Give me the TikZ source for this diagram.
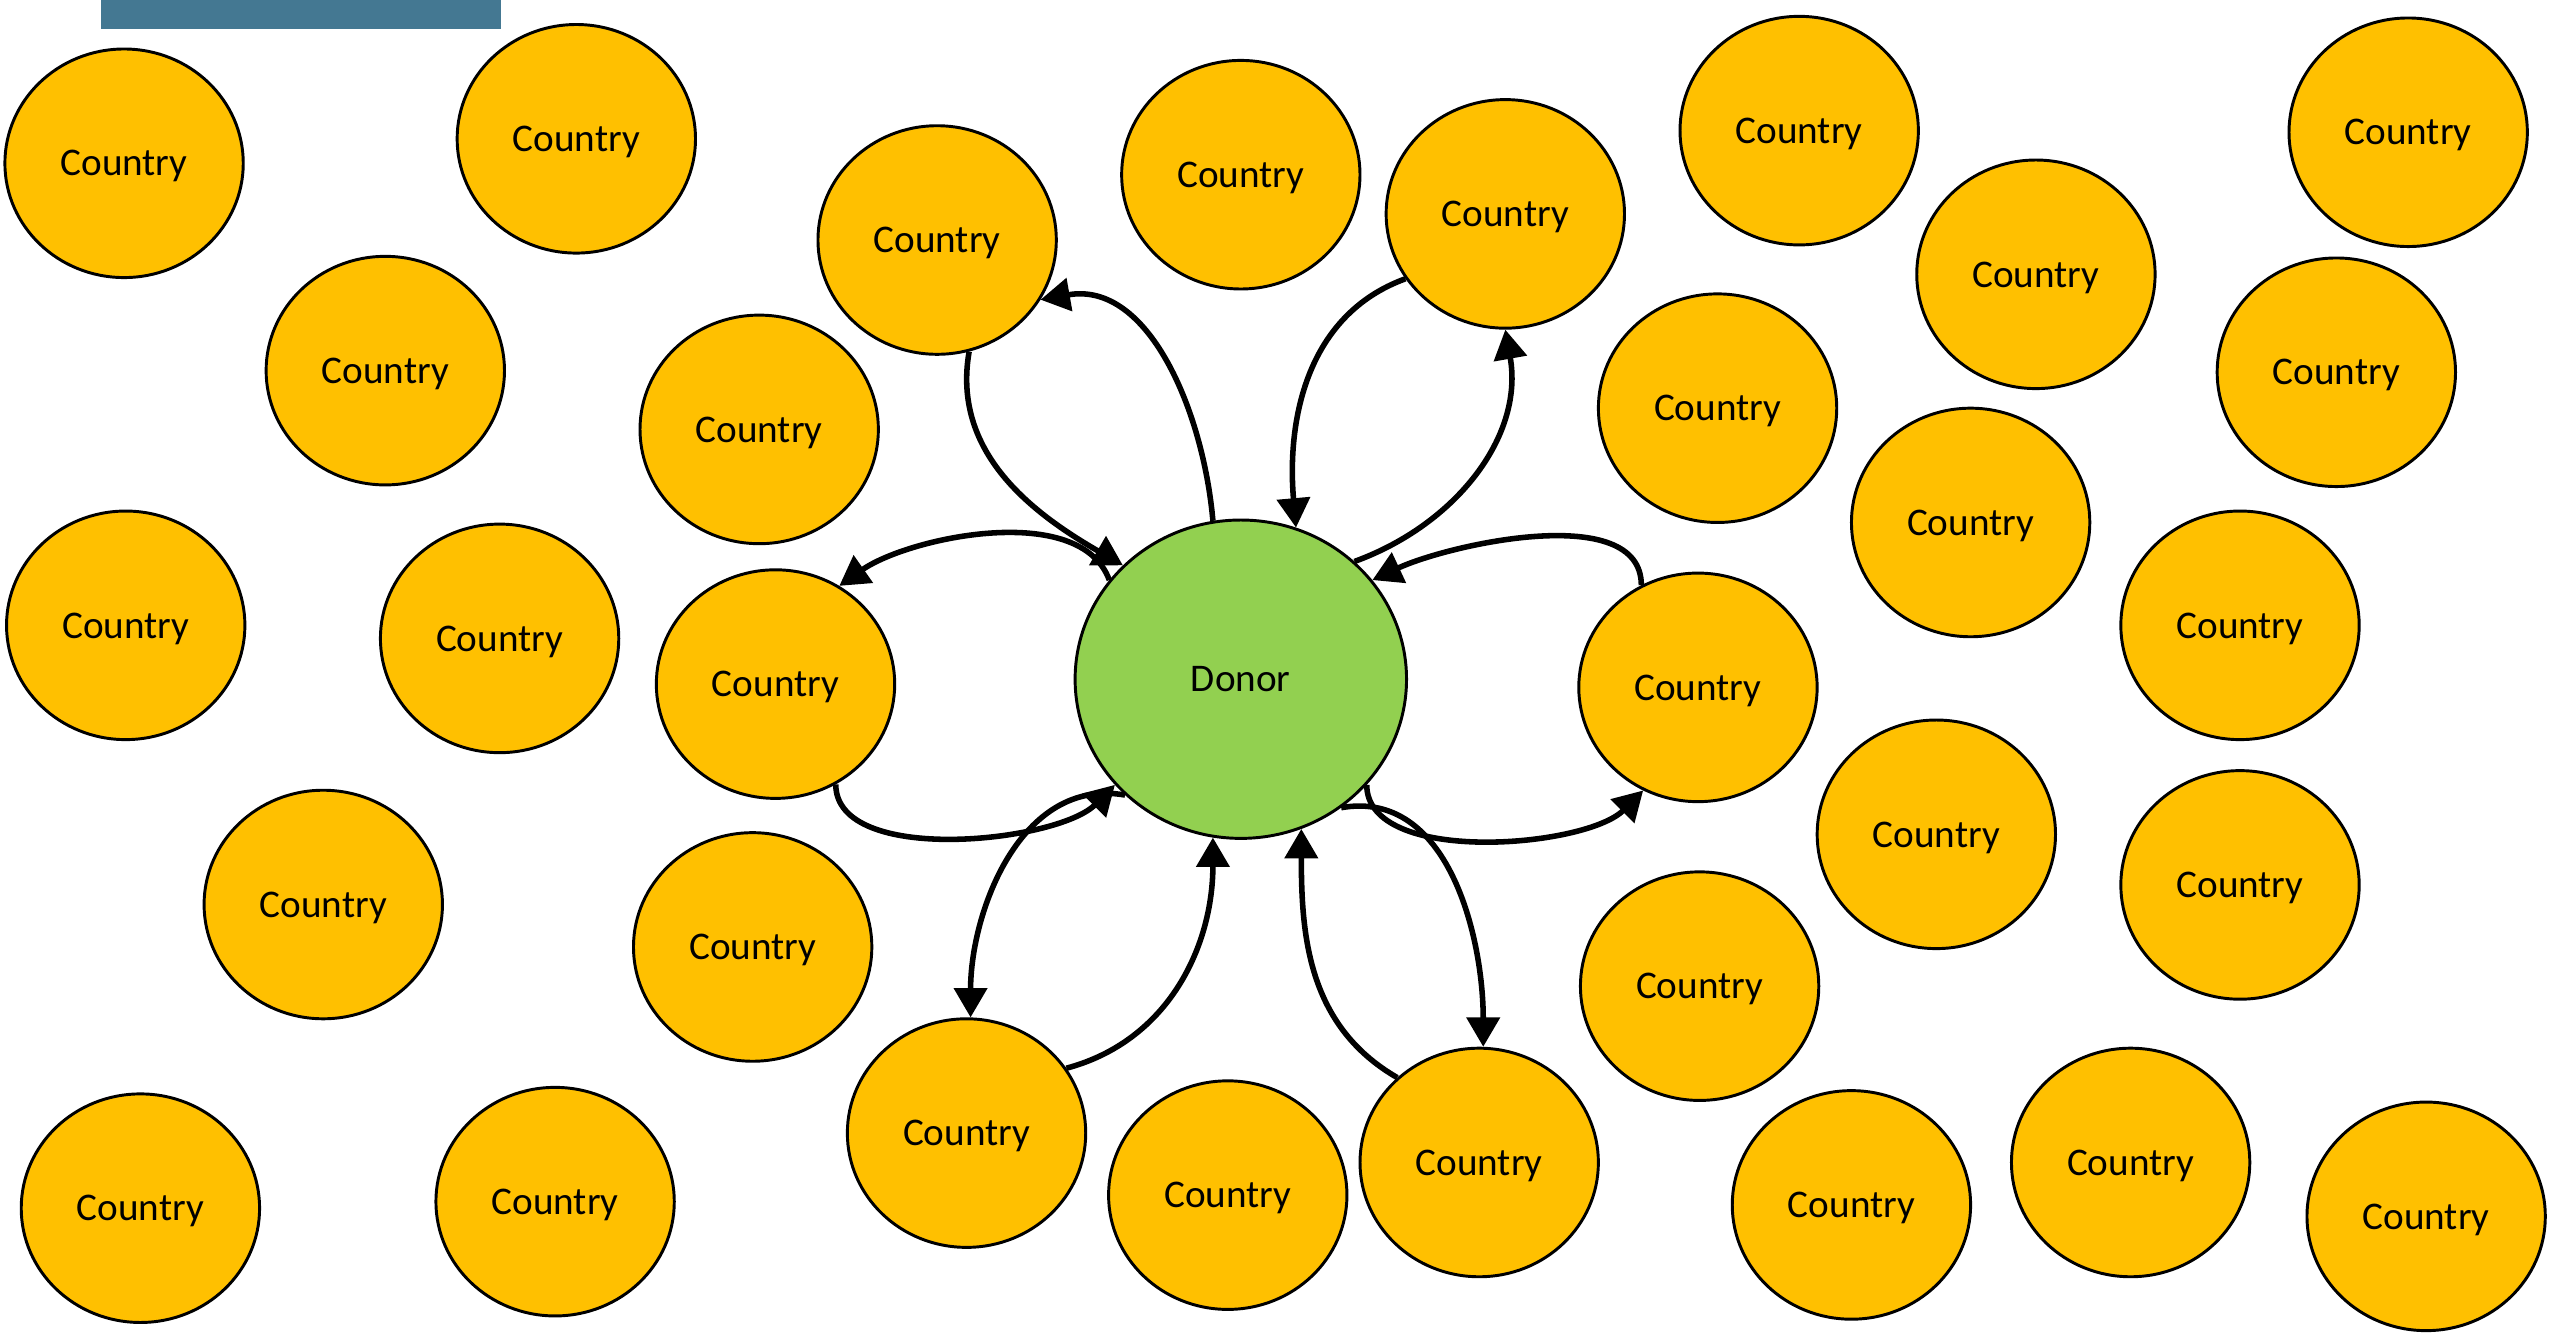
\documentclass[tikz,border=0pt]{standalone}
\usepackage{fontspec}
\setmainfont{Carlito}
\usepackage{tikz}
\usetikzlibrary{shapes.geometric,arrows.meta}

\definecolor{gold}{HTML}{FFC000}
\definecolor{leaf}{HTML}{92D050}
\definecolor{bar}{HTML}{447892}

\begin{document}
\begin{tikzpicture}[x=0.5pt,y=-0.5pt]
  \tikzset{country/.style = {ellipse,draw,line width=0.9pt,fill=gold,minimum width=73pt,minimum height=70pt,inner sep=0pt,text depth=0pt,font=\fontsize{12}{14}\selectfont}}
  \tikzset{donor/.style = {country,fill=leaf,minimum width=101.5pt,minimum height=97.5pt}}
  \tikzset{flow/.style = {-{Triangle[length=9pt,width=10pt]},line width=1.7pt}}

\useasboundingbox (0,0) rectangle (1568,816);
\fill[bar] (62,0) rectangle (307,18);

\node[donor] (donor) at (760,416) {Donor};

\node[country] (c1)  at (76,100) {Country};
\node[country] (c2)  at (353,85) {Country};
\node[country] (c3)  at (236,227) {Country};
\node[country] (c4)  at (77,383) {Country};
\node[country] (c5)  at (306,391) {Country};
\node[country] (c6)  at (198,554) {Country};
\node[country] (c7)  at (86,740) {Country};
\node[country] (c8)  at (340,736) {Country};
\node[country] (c9)  at (574,147) {Country};
\node[country] (c10) at (760,107) {Country};
\node[country] (c11) at (922,131) {Country};
\node[country] (c12) at (465,263) {Country};
\node[country] (c13) at (475,419) {Country};
\node[country] (c14) at (461,580) {Country};
\node[country] (c15) at (592,694) {Country};
\node[country] (c16) at (752,732) {Country};
\node[country] (c17) at (906,712) {Country};
\node[country] (c18) at (1040,421) {Country};
\node[country] (c19) at (1052,250) {Country};
\node[country] (c20) at (1102,80) {Country};
\node[country] (c21) at (1247,168) {Country};
\node[country] (c22) at (1475,81) {Country};
\node[country] (c23) at (1431,228) {Country};
\node[country] (c24) at (1207,320) {Country};
\node[country] (c25) at (1372,383) {Country};
\node[country] (c26) at (1186,511) {Country};
\node[country] (c27) at (1372,542) {Country};
\node[country] (c28) at (1041,604) {Country};
\node[country] (c29) at (1134,738) {Country};
\node[country] (c30) at (1305,712) {Country};
\node[country] (c31) at (1486,745) {Country};

    \path[flow] (donor.143) edge[out=110, in=35, looseness=0.8] (c13.57);
    \path[flow] (c13.301) edge[out=-90, in=-135, looseness=0.75] (donor.220);

    \path[flow] (c18.119) edge[out=90, in=25, looseness=0.8] (donor.37);
    \path[flow] (donor.320) edge[out=-90, in=-135, looseness=0.75] (c18.242);

      \path[flow] (donor.100) edge[out=95, in=10] (c9.-30);
      \path[flow] (c9.286) edge[out=-100, in=150] (donor.136);

      \path[flow] (c11.213) edge[out=200, in=95] (donor.70);
      \path[flow] (donor.46) edge[out=20, in=-80] (c11.270);

        \path[flow] (donor.225) edge[out=170, in=90] (c15.88);
        \path[flow] (c15.33) edge[out=15, in=-90] (donor.260);

        \path[flow] (c17.134) edge[out=150, in=-90] (donor.292);
        \path[flow] (donor.308) edge[out=10, in=90] (c17.88);

\end{tikzpicture}
\end{document}
